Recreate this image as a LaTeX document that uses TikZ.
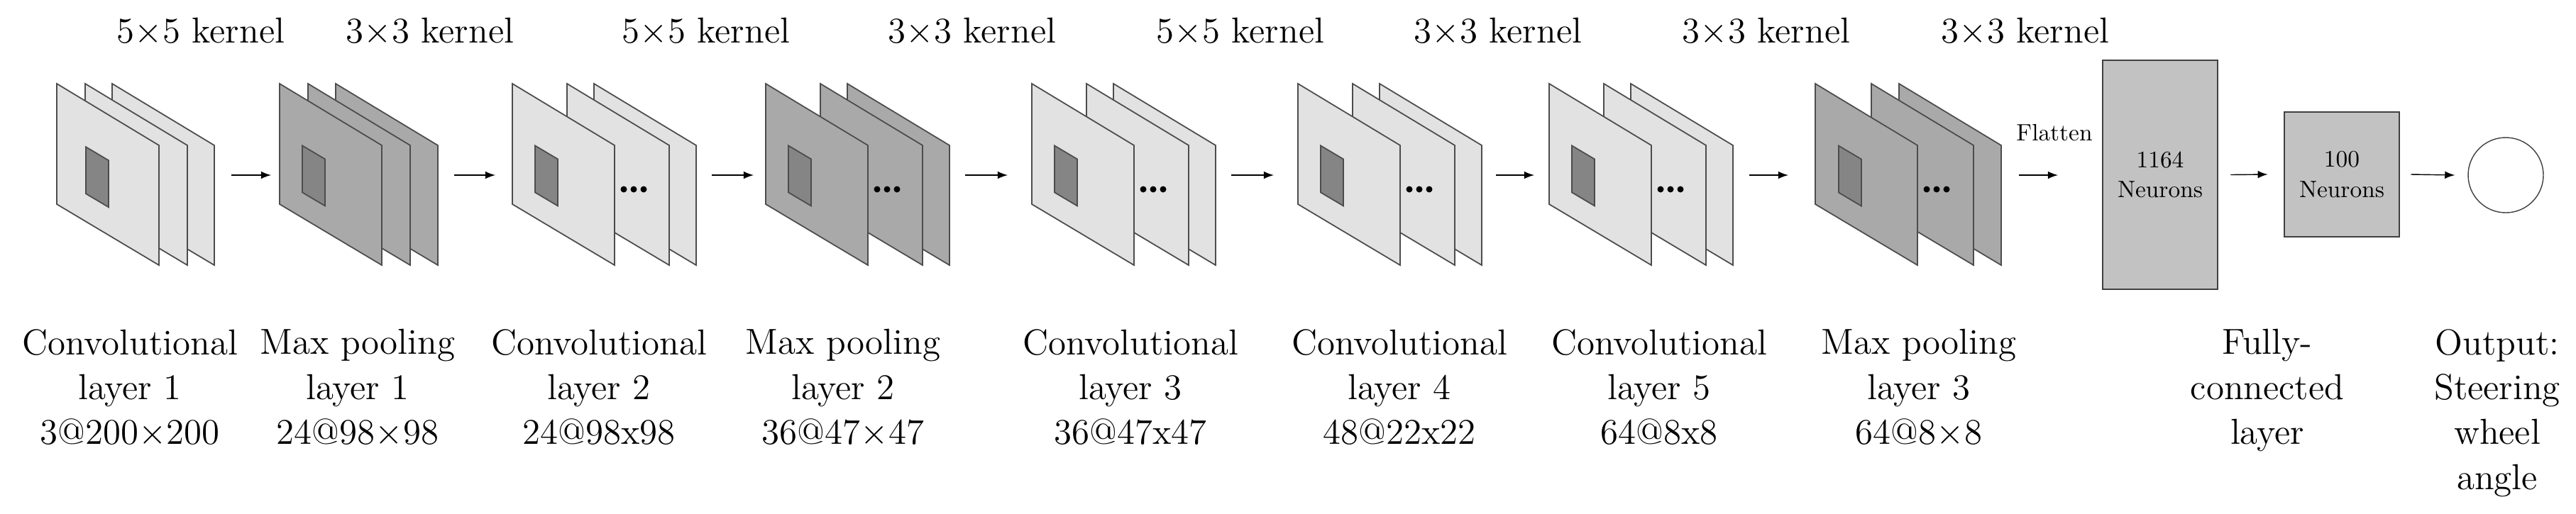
\documentclass[tikz,border=0pt]{standalone}
\usetikzlibrary{positioning}
\definecolor{maplight}{HTML}{E2E2E2}
\definecolor{mapdark}{HTML}{A9A9A9}
\definecolor{patch}{HTML}{858585}
\definecolor{fcbox}{HTML}{C2C2C2}
\tikzset{
    plane/.style={draw=black!70,line width=.5pt},
    lbl/.style={align=center,font=\fontsize{14.5}{18}\selectfont},
    small/.style={align=center,font=\fontsize{9.5}{12}\selectfont},
}
% #1 left x, #2 fill, #3 second plane, #4 third plane, #5 patch offset
\newcommand\fmap[5]{
    \foreach \o in {#4,#3,0}
        \draw[plane,fill=#2] (#1+\o,-1.18)--(#1+\o+1.44,-2.05)--(#1+\o+1.44,-3.74)--(#1+\o,-2.88)--cycle;
    \draw[plane,fill=patch] (#1+#5,-1.99-.2*#5)--++(.32,-.19)--++(0,-.66)--++(-.32,.19)--cycle;
}
\newcommand\mapdots[1]{
    \foreach \d in {.13,.27,.41}
        \fill (#1+1.44+\d,-2.67) circle (.045);
}
\begin{document}
\begin{tikzpicture}[>=latex,x=1cm,y=1cm]
\useasboundingbox (0,0) rectangle (36.3,-7.24);
\fmap{0.80}{maplight}{.40}{.78}{.41}
\fmap{3.94}{mapdark}{.40}{.79}{.32}
\fmap{7.22}{maplight}{.77}{1.15}{.32}  \mapdots{7.22}
\fmap{10.79}{mapdark}{.77}{1.15}{.32}  \mapdots{10.79}
\fmap{14.54}{maplight}{.77}{1.15}{.32} \mapdots{14.54}
\fmap{18.29}{maplight}{.77}{1.15}{.32} \mapdots{18.29}
\fmap{21.83}{maplight}{.77}{1.15}{.32} \mapdots{21.83}
\fmap{25.58}{mapdark}{.79}{1.18}{.33} \mapdots{25.58}
% arrows between the maps
\foreach \s/\e [count=\i] in {3.26/3.82,6.40/6.98,10.03/10.62,13.60/14.20,17.35/17.95,21.08/21.62,24.65/25.20,28.45/29.00}{
    \coordinate (s\i) at (\s,-2.47);
    \coordinate (e\i) at (\e,-2.47);
    \draw[->] (s\i) -- (e\i);
}
\node[small] (flat) at (28.95,-1.87) {Flatten};
\node[draw=black!75,line width=.8pt,fill=fcbox,minimum width=1.62cm,minimum height=3.23cm,small] (fc1) at (30.44,-2.465) {1164\\Neurons};
\node[draw=black!75,line width=.8pt,fill=fcbox,minimum width=1.62cm,minimum height=1.76cm,small] (fc2) at (33.00,-2.46) {100\\Neurons};
\node[draw=black!75,circle,minimum size=1.06cm,inner sep=0pt] (out) at (35.31,-2.47) {};
\draw[->] (fc1.east)+(.17,0) coordinate (f1) -- ([xshift=-.22cm]fc2.west) coordinate (f2);
\draw[->] ([xshift=.15cm]fc2.east) coordinate (f3) -- ([xshift=-.18cm]out.west) coordinate (f4);
% kernel sizes
\foreach \x/\k [count=\i] in {2.83/5,6.06/3,9.95/5,13.70/3,17.48/5,21.11/3,24.89/3,28.54/3}
    \node[lbl,anchor=base] (k\i) at (\x,-.60) {\k$\times$\k{} kernel};
% layer names
\foreach \x/\t [count=\i] in {1.83/{Convolutional\\layer 1\\3@200$\times$200},5.04/{Max pooling\\layer 1\\24@98$\times$98},8.44/{Convolutional\\layer 2\\24@98x98},11.88/{Max pooling\\layer 2\\36@47$\times$47},15.93/{Convolutional\\layer 3\\36@47x47},19.72/{Convolutional\\layer 4\\48@22x22},23.38/{Convolutional\\layer 5\\64@8x8},27.04/{Max pooling\\layer 3\\64@8$\times$8},31.95/{Fully-\\connected\\layer},35.19/{Output:\\Steering\\wheel\\angle}}
    \node[lbl,anchor=north] (n\i) at (\x,-4.52) {\t};
\end{tikzpicture}
\end{document}
